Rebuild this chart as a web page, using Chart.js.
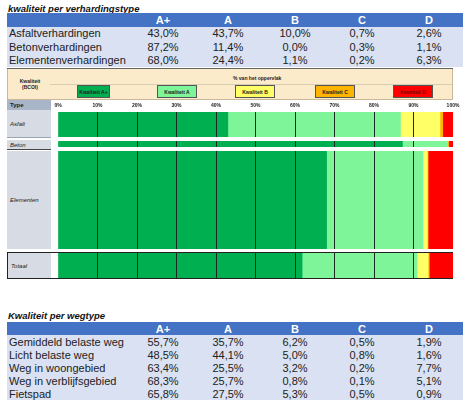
<!DOCTYPE html>
<html>
<head>
<meta charset="utf-8">
<script src="https://cdn.jsdelivr.net/npm/chart.js@4"></script>
<style>
  body { margin: 0; background: #fff; font-family: "Liberation Sans", Arial, sans-serif; }
  .abs { position: absolute; }
  .title { font-weight: bold; font-style: italic; font-size: 9.5px; color: #111; left: 8px; }
  table.kw { position: absolute; left: 7px; width: 456px; border-collapse: collapse; font-size: 11px; color: #222; table-layout: fixed; }
  table.kw th { background: #4472C4; color: #fff; font-weight: bold; text-align: center; padding: 0; line-height: 12px; }
  table.kw td { background: #D9E1F2; text-align: center; padding: 0; line-height: 12px; white-space: nowrap; }
  table.kw td:first-child { text-align: left; padding-left: 2px; }
  .lbl { background: #D6DBE4; font-size: 6px; font-style: italic; color: #222; left: 7px; width: 44px;
         display: flex; align-items: center; padding-left: 3px; box-sizing: border-box; }
  .key { font-size: 5px; font-weight: bold; text-align: center; line-height: 12px; height: 13px; white-space: nowrap;
         border: 1px solid #555; box-sizing: border-box; top: 85px; }
  .tiny { font-size: 5px; font-weight: bold; color: #222; white-space: nowrap; }
  canvas { position: absolute; }
</style>
</head>
<body>

<div class="abs title" style="top:3px;">kwaliteit per verhardingstype</div>
<table class="kw" id="tab1" style="top:13px;"></table>
<div class="abs" style="left:7px;top:68px;width:446px;height:1px;background:#666;"></div>

<!-- legend block -->
<div class="abs" style="left:7px;top:69px;width:446px;height:31px;background:#FCEBCB;border:1px solid #C9B99A;border-top:none;box-sizing:border-box;"></div>
<div class="abs" style="left:50px;top:84px;width:402px;height:1px;background:#D8CCB0;"></div>
<div class="abs tiny" style="left:12px;top:78px;width:36px;text-align:center;line-height:6px;">Kwaliteit<br>(BCOI)</div>
<div class="abs tiny" style="left:233px;top:75px;">% van het oppervlak</div>
<div id="keys"></div>

<!-- row labels -->
<div class="abs lbl" style="top:100px;height:10px;background:#A9B5C8;font-style:normal;font-weight:bold;">Type</div>
<div class="abs lbl" style="top:110px;height:28px;border-bottom:1px solid #9AA3B0;">Asfalt</div>
<div class="abs lbl" style="top:140px;height:10px;border-bottom:1px solid #444;">Beton</div>
<div class="abs lbl" style="top:151px;height:98px;">Elementen</div>
<div class="abs" style="left:7px;top:252px;width:446px;height:27px;border:1px solid #222;box-sizing:border-box;"></div>
<div class="abs lbl" style="top:253px;height:25px;left:8px;width:43px;">Totaal</div>

<canvas id="rowAsfalt" width="414" height="37" style="left:51px;top:100px;"></canvas>
<canvas id="rowBeton" width="414" height="6" style="left:51px;top:141px;"></canvas>
<canvas id="rowElementen" width="414" height="98" style="left:51px;top:151px;"></canvas>
<canvas id="rowTotaal" width="414" height="25" style="left:51px;top:253px;"></canvas>

<div class="abs title" style="top:310px;">Kwaliteit per wegtype</div>
<table class="kw" id="tab2" style="top:322px;"></table>

<script>
// kwaliteitsklassen
const qualities = ["A+", "A", "B", "C", "D"];
const qualityLabels = ["Kwaliteit A+", "Kwaliteit A", "Kwaliteit B", "Kwaliteit C", "Kwaliteit D"];

// kwaliteit per verhardingstype (%)
const pavementTypes = ["Asfaltverhardingen", "Betonverhardingen", "Elementenverhardingen"];
const asfalt = [43.0, 43.7, 10.0, 0.7, 2.6];
const beton = [87.2, 11.4, 0.0, 0.3, 1.1];
const elementen = [68.0, 24.4, 1.1, 0.2, 6.3];
const totaal = [61.8, 29.1, 2.8, 0.3, 6.0];

// kwaliteit per wegtype (%)
const roadTypes = ["Gemiddeld belaste weg", "Licht belaste weg", "Weg in woongebied", "Weg in verblijfsgebied", "Fietspad"];
const gemiddeld = [55.7, 35.7, 6.2, 0.5, 1.9];
const licht = [48.5, 44.1, 5.0, 0.8, 1.6];
const woongebied = [63.4, 25.5, 3.2, 0.2, 7.7];
const verblijfsgebied = [68.3, 25.7, 0.8, 0.1, 5.1];
const fietspad = [65.8, 27.5, 5.3, 0.5, 0.9];

const xTicks = [0, 10, 20, 30, 40, 50, 60, 70, 80, 90, 100];

const colors = ["#00B050", "#7FF59A", "#FFFF66", "#FFB400", "#FF0000"];

function pct(v) {
  return v.toFixed(1).replace(".", ",") + "%";
}

const colWidths = [124, 64, 66, 68, 66, 68];

function fillTable(id, names, rows, rowH) {
  let html = "<colgroup>" + colWidths.map(w => `<col style="width:${w}px">`).join("") + "</colgroup>";
  html += `<tr style="height:${rowH}px"><th></th>` + qualities.map(q => `<th>${q}</th>`).join("") + "</tr>";
  names.forEach((n, i) => {
    html += `<tr style="height:${rowH}px"><td>${n}</td>` + rows[i].map(v => `<td>${pct(v)}</td>`).join("") + "</tr>";
  });
  document.getElementById(id).innerHTML = html;
}
fillTable("tab1", pavementTypes, [asfalt, beton, elementen], 13.5);
fillTable("tab2", roadTypes, [gemiddeld, licht, woongebied, verblijfsgebied, fietspad], 13);

// legend keys
const keyLeft = [77, 157, 235, 315, 393];
document.getElementById("keys").innerHTML = qualityLabels.map((l, i) =>
  `<div class="abs key" style="left:${keyLeft[i]}px;width:${i === 0 ? 33 : 40}px;background:${colors[i]};color:${i === 4 ? "#7a0000" : "#222"}">${l}</div>`
).join("");

function makeRow(id, values, showTicks) {
  const ctx = document.getElementById(id).getContext("2d");
  return new Chart(ctx, {
    type: "bar",
    data: {
      labels: [id],
      datasets: qualities.map((q, i) => ({
        label: q,
        data: [values[i]],
        backgroundColor: colors[i],
        borderWidth: 0,
        barPercentage: 1,
        categoryPercentage: 1,
      })),
    },
    options: {
      indexAxis: "y",
      responsive: false,
      animation: false,
      layout: { padding: { left: 7, right: 12, top: 0, bottom: 0 } },
      plugins: { legend: { display: false }, tooltip: { enabled: false } },
      scales: {
        x: {
          stacked: true,
          min: 0,
          max: 100,
          position: "top",
          afterBuildTicks: (axis) => {
            axis.ticks = xTicks.map((v) => ({ value: v }));
          },
          grid: {
            z: 1,
            drawTicks: false,
            color: (c) => (c.tick && (c.tick.value === 0 || c.tick.value === 100) ? "rgba(0,0,0,0)" : "#1b2a1f"),
            lineWidth: 1,
          },
          border: { display: false },
          ticks: {
            display: showTicks,
            padding: 3,
            color: "#222",
            font: { size: 5, weight: "bold", family: "Liberation Sans" },
            callback: (v) => v + "%",
          },
        },
        y: { stacked: true, display: false },
      },
    },
  });
}

makeRow("rowAsfalt", asfalt, true);
makeRow("rowBeton", beton, false);
makeRow("rowElementen", elementen, false);
makeRow("rowTotaal", totaal, false);
</script>
</body>
</html>
